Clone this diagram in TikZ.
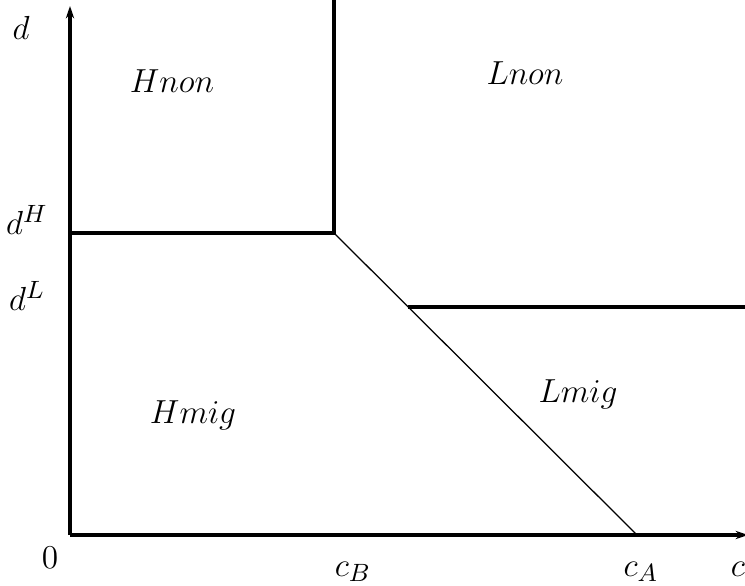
\documentclass[tikz,border=0pt]{standalone}
\usepackage{amsmath, amssymb}
\usepackage{tikz}
\usetikzlibrary{arrows.meta, positioning, calc}

\begin{document}
\begin{tikzpicture}[
    x=1.265cm, y=1.265cm, >={Stealth[length=4.5pt, width=3pt]},
    axis/.style={line width=1.3pt, ->},
    border/.style={line width=1.1pt},
    divide/.style={line width=0.45pt},
    lbl/.style={anchor=base, inner sep=0, font=\fontsize{13}{15}\selectfont}
]
  \useasboundingbox (-0.70,-0.50) rectangle (6.75,5.35);

  % Axes
  \coordinate (O) at (0, 0);
  \coordinate (ytop) at (0, 5.29);
  \coordinate (xend) at (6.78, 0);
  \draw[axis] (O) -- (ytop);
  \draw[axis] (O) -- (xend);

  % Thresholds
  \coordinate (dH) at (0, 3.02);
  \coordinate (B) at (2.64, 3.02);
  \coordinate (Btop) at (2.64, 5.35);
  \coordinate (cA) at (5.67, 0);
  \path (B) -- (cA) coordinate[pos=0.245] (L);
  \coordinate (Lend) at (6.75, 2.28);

  \draw[border] (dH) -- (B) -- (Btop);
  \draw[divide] (B) -- (cA);
  \draw[border] (L) -- (L -| Lend);

  % Axis labels
  \node[lbl] (labd) at (-0.49, 4.95) {$d$};
  \node[lbl] (labdH) at (-0.43, 3.00) {$d^H$};
  \node[lbl] (labdL) at (-0.43, 2.24) {$d^L$};
  \node[lbl] (lab0) at (-0.20, -0.33) {$0$};
  \node[lbl] (labcB) at (2.83, -0.41) {$c_B$};
  \node[lbl] (labcA) at (5.71, -0.41) {$c_A$};
  \node[lbl] (labc) at (6.68, -0.41) {$c$};

  % Regions
  \node[lbl] (Hnon) at (1.02, 4.42) {$Hnon$};
  \node[lbl] (Lnon) at (4.55, 4.50) {$Lnon$};
  \node[lbl] (Hmig) at (1.23, 1.12) {$Hmig$};
  \node[lbl] (Lmig) at (5.08, 1.33) {$Lmig$};
\end{tikzpicture}
\end{document}
